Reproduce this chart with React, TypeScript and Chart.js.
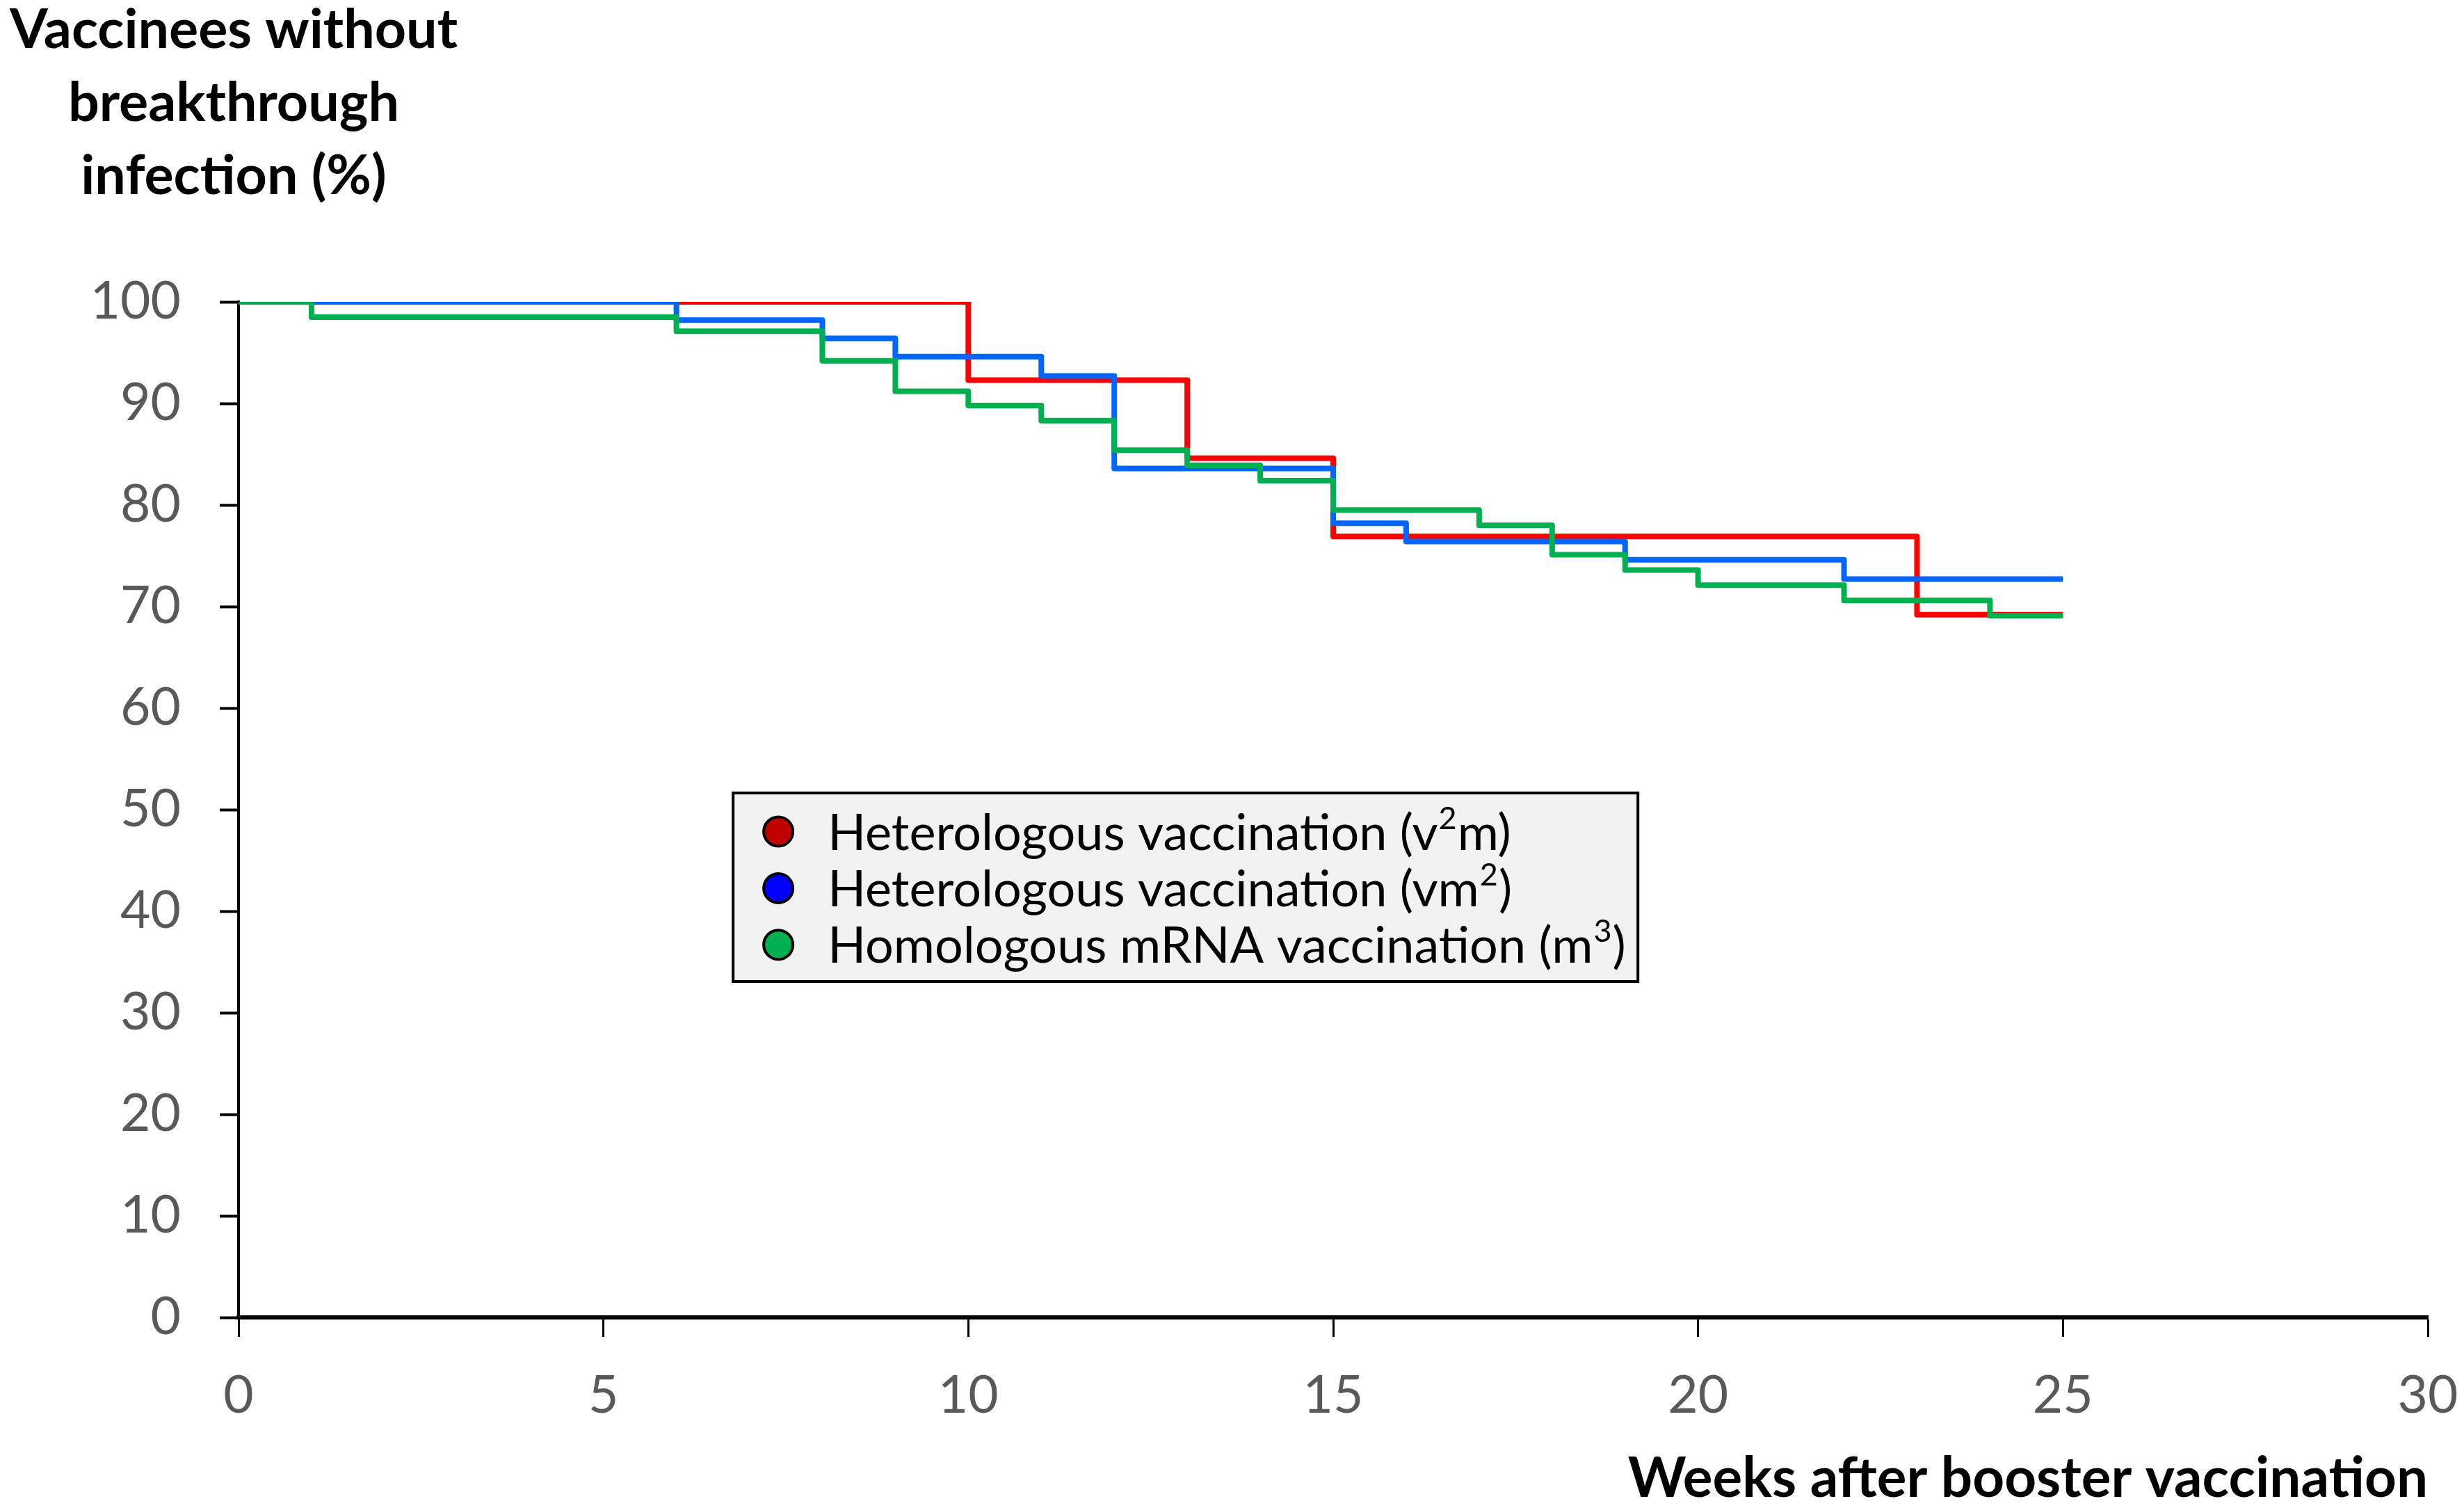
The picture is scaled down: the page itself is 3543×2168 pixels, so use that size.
import React, { useEffect, useRef } from "react";
import { Chart, registerables } from "chart.js";

Chart.register(...registerables);

// ---- Data ----
const seriesLabels = [
  "Heterologous vaccination (v²m)",
  "Heterologous vaccination (vm²)",
  "Homologous mRNA vaccination (m³)",
];
const lineColors = ["#FF0000", "#0066FF", "#00B050"];
const markerColors = ["#C00000", "#0000FF", "#00B050"];

const redWeeks = [0, 10, 13, 15, 23, 25];
const redValues = [100, 92.3, 84.6, 76.9, 69.2, 69.2];

const blueWeeks = [0, 6, 8, 9, 11, 12, 15, 16, 19, 22, 25];
const blueValues = [100, 98.2, 96.4, 94.6, 92.7, 83.6, 78.2, 76.4, 74.6, 72.7, 72.7];

const greenWeeks = [0, 1, 6, 8, 9, 10, 11, 12, 13, 14, 15, 17, 18, 19, 20, 22, 24, 25];
const greenValues = [100, 98.5, 97.1, 94.2, 91.2, 89.8, 88.3, 85.4, 83.9, 82.4, 79.5, 78.0, 75.1, 73.6, 72.1, 70.6, 69.1, 69.1];

const xTicksMin = 0;
const xTicksMax = 30;
const xStep = 5;
const yTicksMin = 0;
const yTicksMax = 100;
const yStep = 10;

const yTitleLines = ["Vaccinees without", "breakthrough", "infection (%)"];
const xTitle = "Weeks after booster vaccination";

const W = 3543;
const H = 2168;
const FONT = "Lato, 'Open Sans', 'DejaVu Sans', sans-serif";

const SUP_MAP: Record<string, string> = { "²": "2", "³": "3" };

function toPoints(xs: number[], ys: number[]) {
  return xs.map((x, i) => ({ x, y: ys[i] }));
}

// draw a label, rendering Unicode superscript digits as raised smaller text
function drawRichLabel(ctx: CanvasRenderingContext2D, text: string, x: number, y: number, size: number) {
  let cx = x;
  let buf = "";
  const flush = () => {
    if (!buf) return;
    ctx.font = `${size}px ${FONT}`;
    ctx.fillText(buf, cx, y);
    cx += ctx.measureText(buf).width;
    buf = "";
  };
  for (const ch of text) {
    if (SUP_MAP[ch]) {
      flush();
      const s = Math.round(size * 0.62);
      ctx.font = `${s}px ${FONT}`;
      ctx.fillText(SUP_MAP[ch], cx + 1, y - size * 0.3);
      cx += ctx.measureText(SUP_MAP[ch]).width + 2;
    } else {
      buf += ch;
    }
  }
  flush();
}

const overlayPlugin = {
  id: "overlay",
  afterDraw(chart: any) {
    const ctx = chart.ctx as CanvasRenderingContext2D;
    const area = chart.chartArea;
    const aw = area.right - area.left;
    const ah = area.bottom - area.top;
    ctx.save();

    // Y-axis title (horizontal, centered, three lines above the axis)
    ctx.fillStyle = "#000000";
    ctx.font = `bold 79px ${FONT}`;
    ctx.textAlign = "center";
    ctx.textBaseline = "alphabetic";
    const tx = area.left - 7;
    const baselines = [69, 174, 279];
    yTitleLines.forEach((t, i) => ctx.fillText(t, tx, baselines[i]));

    // Legend box
    const bx = area.left + aw * 0.2259;
    const by = area.top + ah * 0.4836;
    const bw = aw * 0.4133;
    const bh = ah * 0.1856;
    ctx.fillStyle = "#F2F2F2";
    ctx.fillRect(bx, by, bw, bh);
    ctx.strokeStyle = "#000000";
    ctx.lineWidth = 4;
    ctx.strokeRect(bx, by, bw, bh);

    const rowGap = bh * 0.3;
    const firstRow = by + bh * 0.205;
    ctx.textAlign = "left";
    ctx.textBaseline = "middle";
    seriesLabels.forEach((label, i) => {
      const cy = firstRow + i * rowGap;
      ctx.beginPath();
      ctx.arc(bx + 65, cy, 21, 0, Math.PI * 2);
      ctx.fillStyle = markerColors[i];
      ctx.fill();
      ctx.lineWidth = 4;
      ctx.strokeStyle = "#000000";
      ctx.stroke();
      ctx.fillStyle = "#000000";
      drawRichLabel(ctx, label, bx + 136, cy + 3, 72);
    });
    ctx.restore();
  },
};

export default function App() {
  const canvasRef = useRef<HTMLCanvasElement | null>(null);

  useEffect(() => {
    document.body.style.margin = "0";
    let chart: Chart | null = null;
    let cancelled = false;

    const build = () => {
      if (cancelled || !canvasRef.current) return;
      chart = new Chart(canvasRef.current, {
        type: "line",
        data: {
          datasets: [
            {
              label: seriesLabels[0],
              data: toPoints(redWeeks, redValues),
              borderColor: lineColors[0],
              borderWidth: 8,
              stepped: "before",
              pointRadius: 0,
              fill: false,
              order: 2,
              borderJoinStyle: "round",
            },
            {
              label: seriesLabels[1],
              data: toPoints(blueWeeks, blueValues),
              borderColor: lineColors[1],
              borderWidth: 8,
              stepped: "before",
              pointRadius: 0,
              fill: false,
              order: 1,
              borderJoinStyle: "round",
            },
            {
              label: seriesLabels[2],
              data: toPoints(greenWeeks, greenValues),
              borderColor: lineColors[2],
              borderWidth: 8,
              stepped: "before",
              pointRadius: 0,
              fill: false,
              order: 0,
              borderJoinStyle: "round",
            },
          ],
        },
        options: {
          animation: false,
          responsive: false,
          devicePixelRatio: 1,
          layout: { padding: { left: 0, top: 434, right: 52, bottom: 0 } },
          plugins: {
            legend: { display: false },
            tooltip: { enabled: false },
            title: { display: false },
          },
          scales: {
            x: {
              type: "linear",
              min: xTicksMin,
              max: xTicksMax,
              afterFit: (scale: any) => {
                scale.height = 274;
                scale.paddingLeft = 0;
                scale.paddingRight = 0;
              },
              ticks: {
                stepSize: xStep,
                color: "#595959",
                font: { family: FONT, size: 75 },
                padding: 40,
                maxRotation: 0,
              },
              grid: {
                drawOnChartArea: false,
                drawTicks: true,
                tickLength: 28,
                tickColor: "#000000",
                tickWidth: 3,
              },
              border: { display: true, color: "#000000", width: 6 },
              title: {
                display: true,
                text: xTitle,
                align: "end",
                color: "#000000",
                font: { family: FONT, size: 80, weight: "bold", lineHeight: 1 },
                padding: { top: 0, bottom: 2 },
              },
            },
            y: {
              type: "linear",
              min: yTicksMin,
              max: yTicksMax,
              afterFit: (scale: any) => {
                scale.width = 343;
              },
              ticks: {
                stepSize: yStep,
                color: "#595959",
                font: { family: FONT, size: 75 },
                padding: 56,
              },
              grid: {
                drawOnChartArea: false,
                drawTicks: true,
                tickLength: 27,
                tickColor: "#000000",
                tickWidth: 4,
              },
              border: { display: true, color: "#000000", width: 4 },
            },
          },
        },
        plugins: [overlayPlugin],
      } as any);
    };

    const fontsApi: any = (document as any).fonts;
    if (fontsApi && fontsApi.load) {
      Promise.all([
        fontsApi.load(`75px Lato`),
        fontsApi.load(`bold 79px Lato`),
      ])
        .catch(() => undefined)
        .then(build);
    } else {
      build();
    }

    return () => {
      cancelled = true;
      if (chart) chart.destroy();
    };
  }, []);

  return (
    <div style={{ width: W, height: H, position: "relative", background: "#FFFFFF" }}>
      <canvas ref={canvasRef} width={W} height={H} style={{ display: "block", width: W, height: H }} />
    </div>
  );
}
